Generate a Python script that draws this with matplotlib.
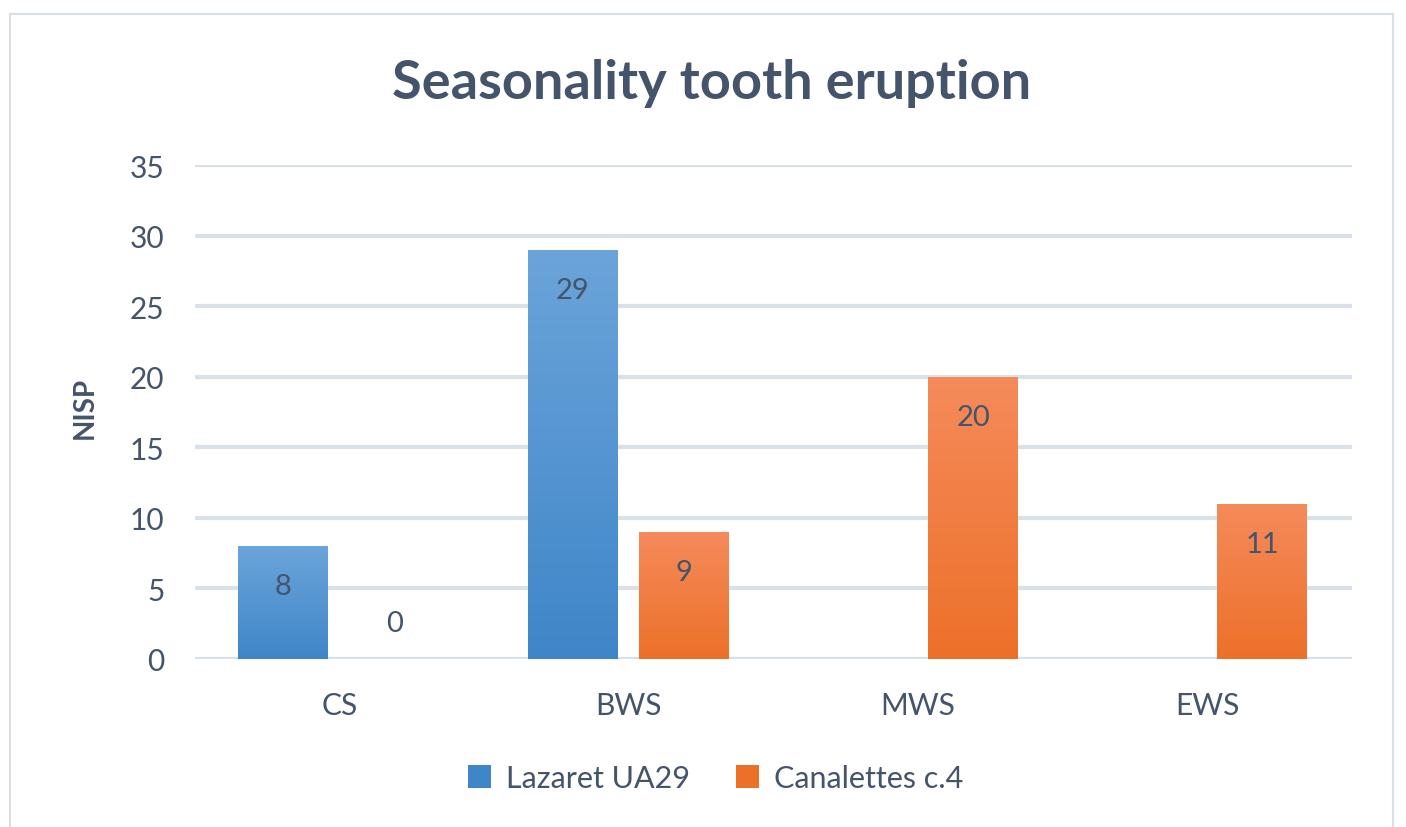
import numpy as np
import matplotlib
matplotlib.use("Agg")
import matplotlib.pyplot as plt
from matplotlib.lines import Line2D
from matplotlib.patches import Patch
from matplotlib.colors import LinearSegmentedColormap

plt.rcParams['font.family'] = ['Lato', 'DejaVu Sans']

categories = ["CS", "BWS", "MWS", "EWS"]
lazaret = [8, 29, None, None]
canalettes = [0, 9, 20, 11]
series_names = ["Lazaret UA29", "Canalettes c.4"]
yticks = [0, 5, 10, 15, 20, 25, 30, 35]

TXT = "#44546a"
GRID = "#d9e0e8"
blue_top, blue_bot = "#6ba4da", "#3f86c8"
orng_top, orng_bot = "#f58b5b", "#ed7029"

fig = plt.figure(figsize=(14.06, 8.28), dpi=100)
W, H = 1406, 828
ax = fig.add_axes([195 / W, 1 - 660 / H, (1352 - 195) / W, (660 - 166) / H])

x = np.arange(len(categories))
width = 0.31
offs = [-0.195, 0.19]


def grad_bars(vals, off, ctop, cbot):
    cmap = LinearSegmentedColormap.from_list("g", [cbot, ctop])
    bars = []
    for xi, v in zip(x, vals):
        if v is None:
            continue
        b = ax.bar(xi + off, v, width, color=cbot, zorder=2, linewidth=0)[0]
        if v > 0:
            grad = np.linspace(0, 1, 256).reshape(-1, 1)
            im = ax.imshow(grad, cmap=cmap, origin="lower", aspect="auto",
                           extent=[xi + off - width / 2, xi + off + width / 2, 0, v],
                           zorder=3, interpolation="bicubic")
            im.set_clip_path(b)
        bars.append((xi + off, v))
    return bars


lb = grad_bars(lazaret, offs[0], blue_top, blue_bot)
cb = grad_bars(canalettes, offs[1], orng_top, orng_bot)

for bx, v in lb + cb:
    dy = -29 if v > 0 else 26
    ax.annotate(str(v), (bx, v), xytext=(0, dy), textcoords="offset points",
                ha="center", va="center", fontsize=21, color=TXT, zorder=5)

ax.set_xlim(-0.5, len(categories) - 0.5)
ax.set_ylim(0, 35)
ax.set_yticks(yticks)
ax.set_yticklabels([str(t) for t in yticks])
ax.set_xticks(x)
ax.set_xticklabels(categories)
ax.tick_params(axis="both", length=0, labelsize=21.5, labelcolor=TXT)
ax.tick_params(axis="y", pad=22)
ax.tick_params(axis="x", pad=23)
for s in ax.spines.values():
    s.set_visible(False)
ax.set_axisbelow(True)
ax.yaxis.grid(True, color=GRID, linewidth=3, solid_capstyle="round", zorder=0)
ax.set_ylabel("NISP", fontsize=20, fontweight="bold", color=TXT)
ax.yaxis.set_label_coords((98 - 195) / (1352 - 195), (660 - 408) / (660 - 166))

fig.text(712 / W, 1 - 84 / H, "Seasonality tooth eruption", ha="center", va="center",
         fontsize=39, fontweight="bold", color=TXT)

handles = [Patch(facecolor=blue_bot, edgecolor="none"),
           Patch(facecolor=orng_bot, edgecolor="none")]
fig.legend(handles, series_names, loc="center", bbox_to_anchor=(716 / W, 1 - 779 / H),
           ncol=2, frameon=False, fontsize=22, labelcolor=TXT, handlelength=0.75,
           handleheight=0.75, handletextpad=0.5, columnspacing=1.5)

# chart border
bc = "#d9dfe8"
fig.add_artist(Line2D([10 / W, 10 / W], [0, 1 - 15 / H], color=bc, lw=1.5))
fig.add_artist(Line2D([1393 / W, 1393 / W], [0, 1 - 15 / H], color=bc, lw=1.5))
fig.add_artist(Line2D([10 / W, 1393 / W], [1 - 15 / H, 1 - 15 / H], color=bc, lw=1.5))

fig.savefig("out.png", dpi=100)
